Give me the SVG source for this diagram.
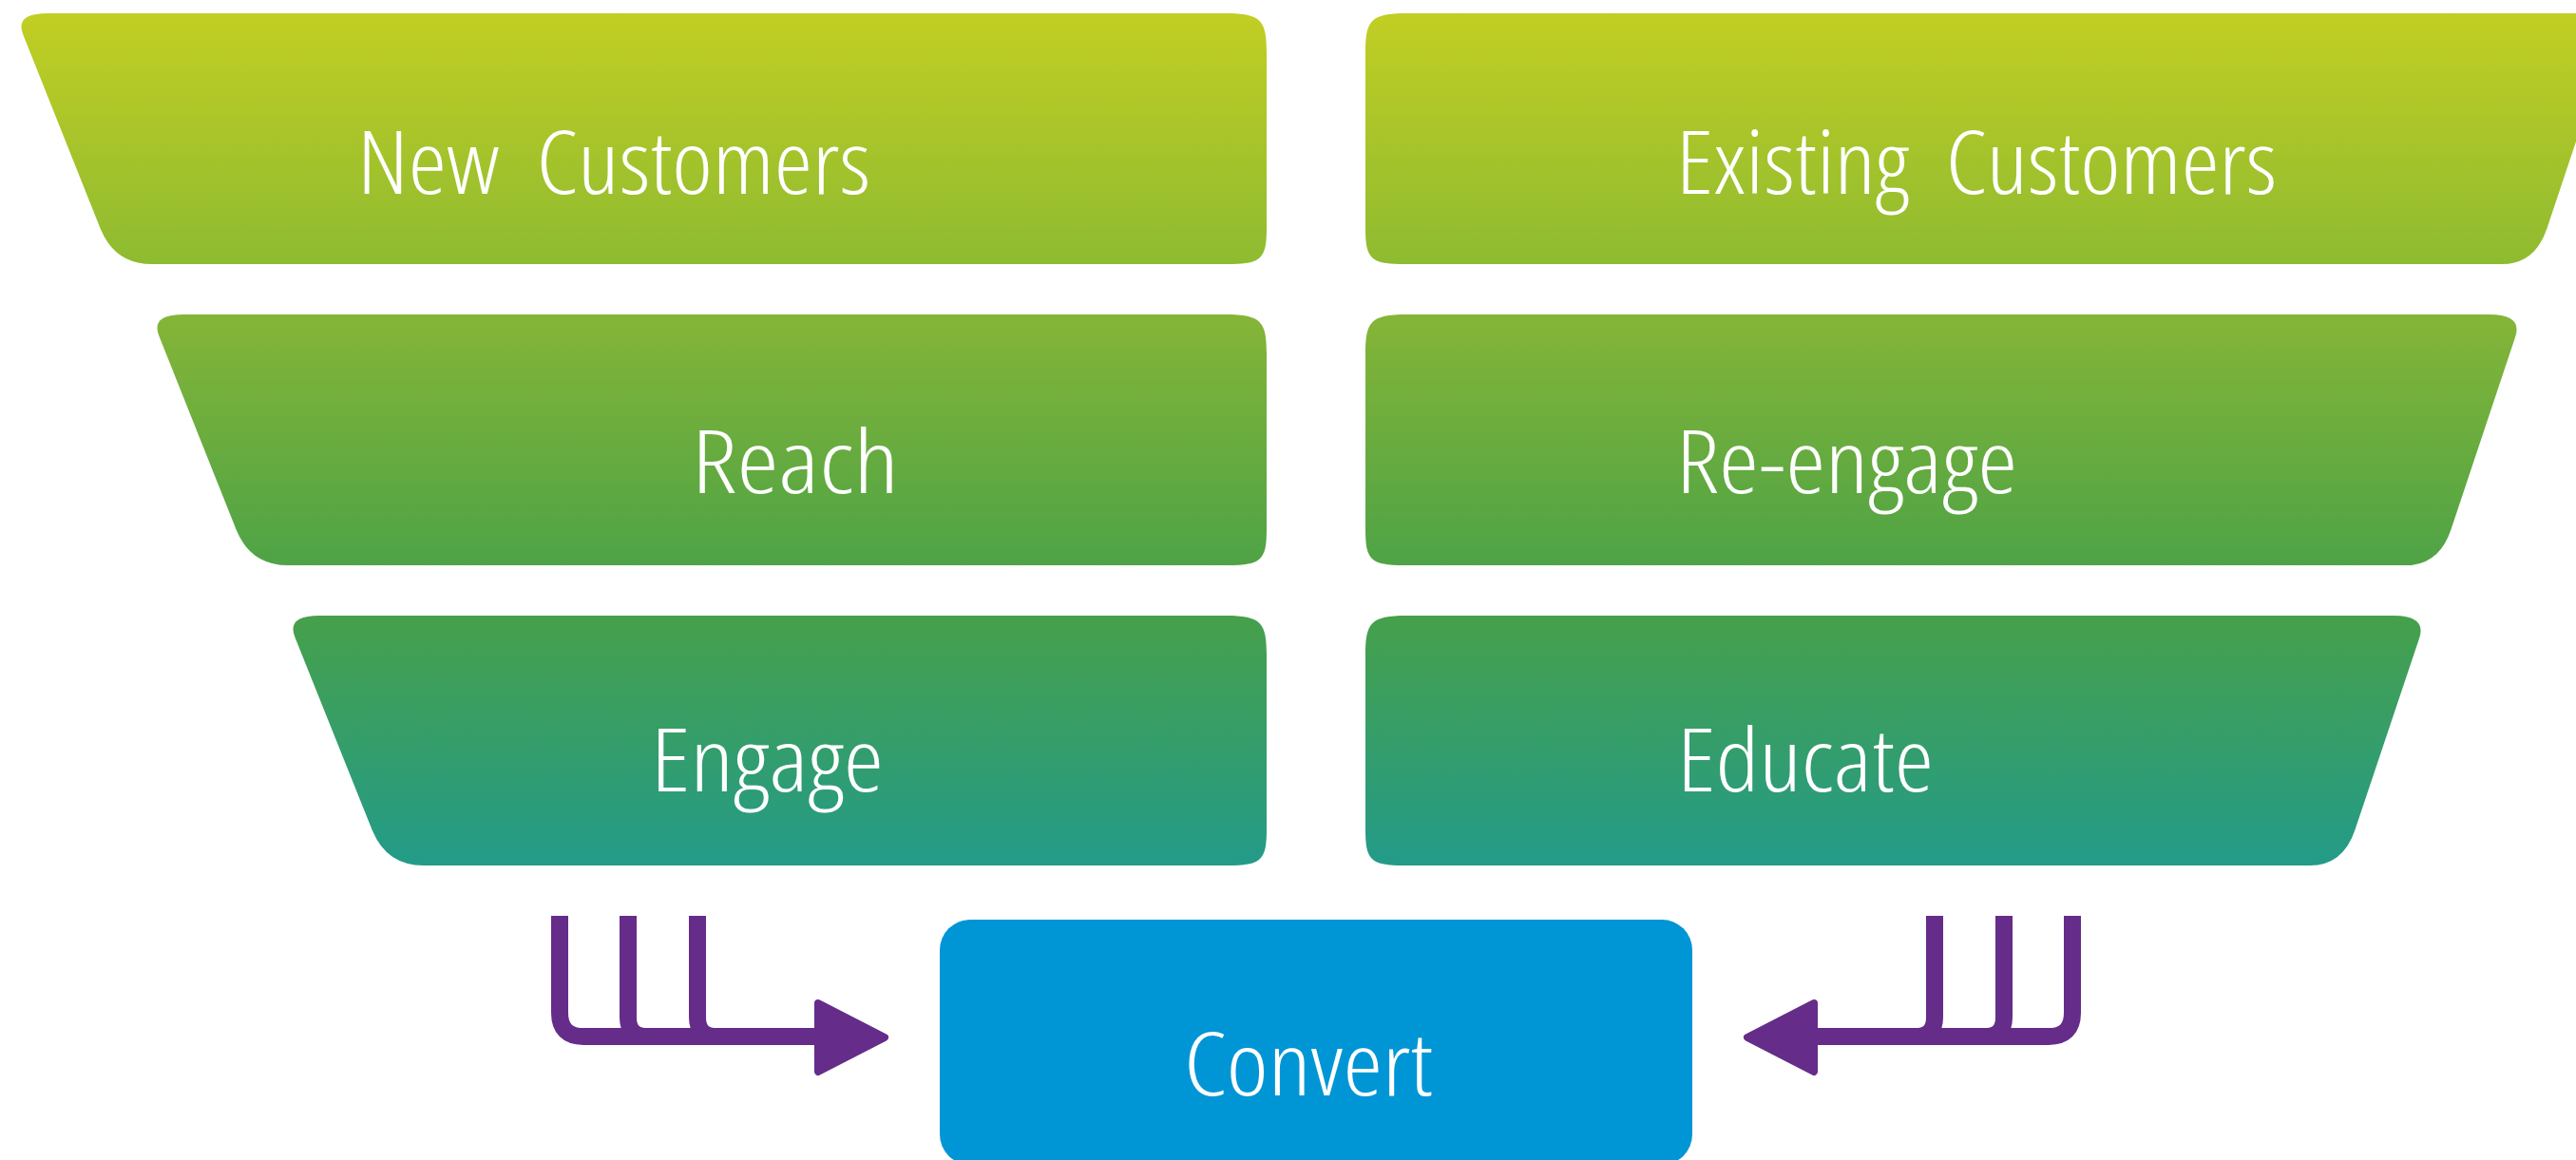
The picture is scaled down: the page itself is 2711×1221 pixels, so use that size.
<svg xmlns="http://www.w3.org/2000/svg" width="2711" height="1221" viewBox="0 0 2711 1221">
  <defs>
    <!-- one vertical gradient shared by all six funnel bands -->
    <linearGradient id="funnel" gradientUnits="userSpaceOnUse" x1="0" y1="14" x2="0" y2="911">
      <stop offset="0" stop-color="#c2ce23"/>
      <stop offset="0.295" stop-color="#8ebb31"/>
      <stop offset="0.354" stop-color="#85b537"/>
      <stop offset="0.648" stop-color="#4ea346"/>
      <stop offset="0.708" stop-color="#46a04b"/>
      <stop offset="1" stop-color="#239b89"/>
    </linearGradient>
    <style>
      .band { fill: url(#funnel); }
      .label { font-family: "Open Sans", "Noto Sans", "Liberation Sans", sans-serif; font-size: 92px; font-weight: 360; font-stretch: condensed; word-spacing: 18px; fill: #ffffff; }
      .flow { fill: none; stroke: #652c8a; stroke-width: 18; stroke-linejoin: round; }
      .head { fill: #652c8a; stroke: #652c8a; stroke-width: 8; stroke-linejoin: round; }
    </style>
  </defs>

  <!-- left column: new customers -->
  <g id="new-customers">
    <path class="band" d="M50 14 H1290 C1328 14 1333 22 1333 56 V240 C1333 272 1328 278 1292 278 H160 Q121 278 105.8 241 L24.5 37 Q15 14 50 14 Z"/>
    <text class="label" x="376" y="204" textLength="540" lengthAdjust="spacingAndGlyphs">New Customers</text>
  </g>
  <g id="reach">
    <path class="band" d="M193 331 H1290 C1328 331 1333 339 1333 373 V557 C1333 589 1328 595 1292 595 H303 Q264 595 248.8 558 L167.5 354 Q158 331 193 331 Z"/>
    <text class="label" x="728" y="519" textLength="218" lengthAdjust="spacingAndGlyphs">Reach</text>
  </g>
  <g id="engage">
    <path class="band" d="M336 648 H1290 C1328 648 1333 656 1333 690 V873 C1333 905 1328 911 1292 911 H446 Q407 911 391.8 874 L310.5 671 Q301 648 336 648 Z"/>
    <text class="label" x="685" y="833" textLength="245" lengthAdjust="spacingAndGlyphs">Engage</text>
  </g>

  <!-- right column: existing customers -->
  <g id="existing-customers">
    <path class="band" d="M1480 14 H2721 Q2756 14 2748.1 37.7 L2680.6 240 Q2668 278 2633 278 H1478 C1442 278 1437 272 1437 240 V56 C1437 22 1442 14 1480 14 Z"/>
    <text class="label" x="1764" y="204" textLength="632" lengthAdjust="spacingAndGlyphs">Existing Customers</text>
  </g>
  <g id="re-engage">
    <path class="band" d="M1480 331 H2620 Q2655 331 2647.1 354.7 L2579.6 557 Q2567 595 2532 595 H1478 C1442 595 1437 589 1437 557 V373 C1437 339 1442 331 1480 331 Z"/>
    <text class="label" x="1764" y="519" textLength="359" lengthAdjust="spacingAndGlyphs">Re-engage</text>
  </g>
  <g id="educate">
    <path class="band" d="M1480 648 H2519 Q2554 648 2546.1 671.7 L2478.6 873 Q2466 911 2431 911 H1478 C1442 911 1437 905 1437 873 V690 C1437 656 1442 648 1480 648 Z"/>
    <text class="label" x="1765" y="833" textLength="270" lengthAdjust="spacingAndGlyphs">Educate</text>
  </g>

  <!-- goal box -->
  <g id="convert">
    <rect x="989" y="968" width="792" height="258" rx="32" ry="32" fill="#0096d6"/>
    <text class="label" x="1246" y="1153" textLength="262" lengthAdjust="spacingAndGlyphs">Convert</text>
  </g>

  <!-- merging arrows into the goal box -->
  <g id="connectors">
    <g id="flow-left">
      <path class="flow" d="M589 964 V1066 Q589 1091 614 1091 H870"/>
      <path class="flow" d="M661 964 V1071 Q661 1091 681 1091 H700"/>
      <path class="flow" d="M734 964 V1071 Q734 1091 754 1091 H780"/>
      <polygon class="head" points="861,1056 931,1092 861,1128"/>
    </g>
    <g id="flow-right">
      <path class="flow" d="M2181 964 V1066 Q2181 1091 2156 1091 H1900"/>
      <path class="flow" d="M2109 964 V1071 Q2109 1091 2089 1091 H2070"/>
      <path class="flow" d="M2036 964 V1071 Q2036 1091 2016 1091 H1990"/>
      <polygon class="head" points="1909,1056 1839,1092 1909,1128"/>
    </g>
  </g>
</svg>
